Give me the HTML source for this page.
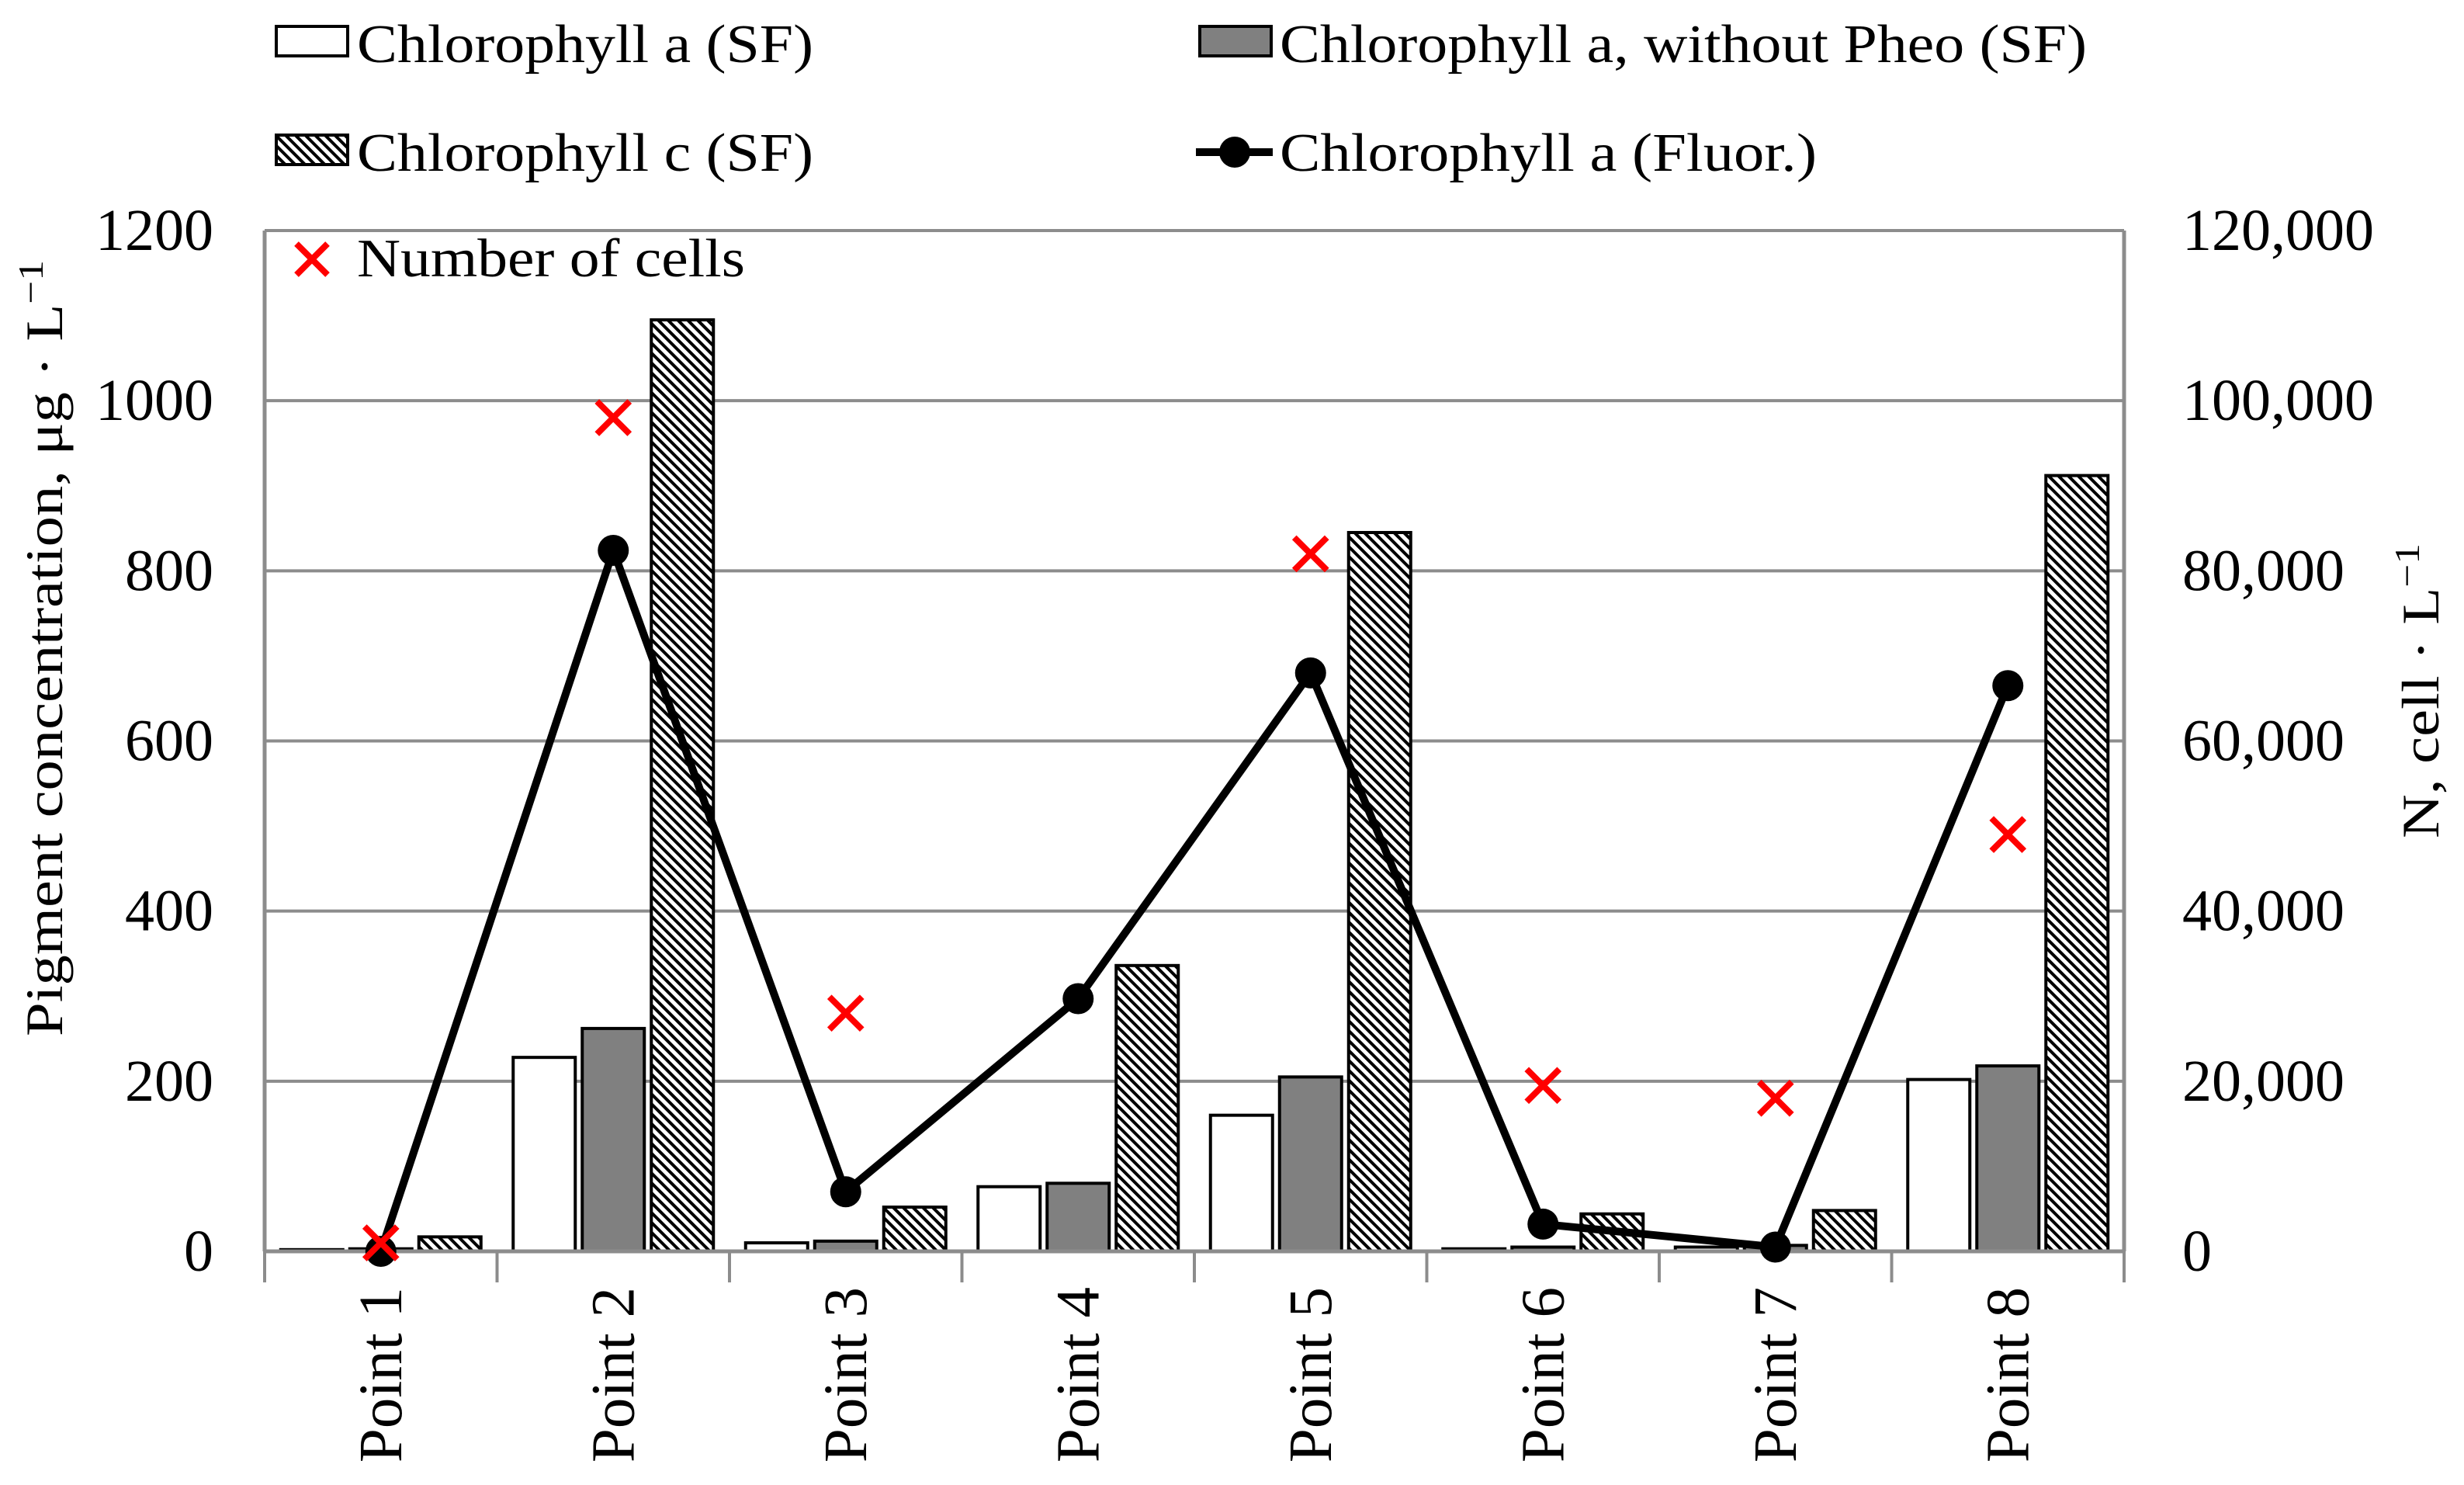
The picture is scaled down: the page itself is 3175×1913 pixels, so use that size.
<!DOCTYPE html>
<html><head><meta charset="utf-8"><style>html,body{margin:0;padding:0;background:#fff}svg{display:block}text{font-family:"Liberation Serif",serif;fill:#000}</style></head>
<body>
<svg id="chart" xmlns="http://www.w3.org/2000/svg" width="3175" height="1913" viewBox="0 0 3175 1913">
<defs>
<pattern id="hatch" patternUnits="userSpaceOnUse" width="9" height="9" patternTransform="rotate(-45)">
<rect width="9" height="9" fill="#fff"/><rect x="0" y="0" width="4" height="9" fill="#000"/>
</pattern>
</defs>
<g id="grid"></g>
<g id="bars"></g>
<g id="axes"></g>
<g id="line"></g>
<g id="cells"></g>
<g id="labels"></g>

<text transform="translate(80,835) rotate(-90)" text-anchor="middle" font-size="68" textLength="1000" lengthAdjust="spacingAndGlyphs">Pigment concentration, μg · L<tspan baseline-shift="super" font-size="46">−1</tspan></text>
<text transform="translate(3142,890) rotate(-90)" text-anchor="middle" font-size="68" textLength="380" lengthAdjust="spacingAndGlyphs">N, cell · L<tspan baseline-shift="super" font-size="46">−1</tspan></text>

<g>
<rect x="356" y="34" width="92" height="38" fill="#fff" stroke="#000" stroke-width="4"/>
<text x="460" y="80" font-size="70" textLength="588" lengthAdjust="spacingAndGlyphs">Chlorophyll a (SF)</text>
<rect x="1546" y="34" width="92" height="38" fill="#808080" stroke="#000" stroke-width="4"/>
<text x="1649" y="80" font-size="70" textLength="1040" lengthAdjust="spacingAndGlyphs">Chlorophyll a, without Pheo (SF)</text>
<rect x="356" y="174" width="92" height="38" fill="url(#hatch)" stroke="#000" stroke-width="4"/>
<text x="460" y="220" font-size="70" textLength="588" lengthAdjust="spacingAndGlyphs">Chlorophyll c (SF)</text>
<line x1="1541" y1="196" x2="1640" y2="196" stroke="#000" stroke-width="10"/>
<circle cx="1591" cy="196" r="20" fill="#000"/>
<text x="1649" y="220" font-size="70" textLength="692" lengthAdjust="spacingAndGlyphs">Chlorophyll a (Fluor.)</text>
<path d="M382,314 L422,354 M422,314 L382,354" stroke="#ff0000" stroke-width="8"/>
<text x="460" y="356" font-size="70" textLength="500" lengthAdjust="spacingAndGlyphs">Number of cells</text>
</g>

<script>
const categories = ["Point 1","Point 2","Point 3","Point 4","Point 5","Point 6","Point 7","Point 8"];
const chlA = [2, 228, 10, 76, 160, 3, 5, 202];
const chlANoPheo = [3, 262, 12, 80, 205, 5, 7, 218];
const chlC = [17, 1095, 52, 336, 845, 44, 48, 912];
const chlAFluor = [0, 824, 70, 297, 680, 32, 5, 665];
const cellCounts = [1000, 98000, 28000, null, 82000, 19500, 18000, 49000];
const yTicks = [0, 200, 400, 600, 800, 1000, 1200];
const y2Ticks = [0, 20000, 40000, 60000, 80000, 100000, 120000];

const NS = "http://www.w3.org/2000/svg";
const L = 341, R = 2737, T = 297, B = 1612;
const yMax = 1200, y2Max = 120000;
const cw = (R - L) / categories.length;
const y = v => B - v / yMax * (B - T);
const y2 = v => B - v / y2Max * (B - T);
const xc = i => L + cw * (i + 0.5);
function mk(tag, attrs, parent) {
  const e = document.createElementNS(NS, tag);
  for (const k in attrs) e.setAttribute(k, attrs[k]);
  parent.appendChild(e);
  return e;
}
const grid = document.getElementById('grid');
yTicks.forEach((t) => {
  if (t === 0) return;
  const g = mk('line', {x1: L, x2: R, y1: y(t), y2: y(t), stroke: '#8c8c8c', 'stroke-width': 4}, grid);
  
  
});
const bars = document.getElementById('bars');
const series = [[chlA, '#fff'], [chlANoPheo, '#808080'], [chlC, 'url(#hatch)']];
const bw = 80, gap = 9;
const off0 = (cw - (3 * bw + 2 * gap)) / 2;
categories.forEach((c, i) => {
  series.forEach((s, j) => {
    const v = s[0][i];
    const x = L + cw * i + off0 + j * (bw + gap);
    const r = mk('rect', {x: x, y: y(v), width: bw, height: B - y(v), fill: s[1], stroke: '#000', 'stroke-width': 4}, bars);
    
    
  });
});
const axes = document.getElementById('axes');
[[L, T, L, B], [R, T, R, B], [L, B, R, B]].forEach(a => {
  const l = mk('line', {x1: a[0], y1: a[1], x2: a[2], y2: a[3], stroke: '#8c8c8c', 'stroke-width': 5}, axes);
  
  
});
for (let i = 0; i <= categories.length; i++) {
  const l = mk('line', {x1: L + cw * i, x2: L + cw * i, y1: B, y2: B + 40, stroke: '#8c8c8c', 'stroke-width': 4}, axes);
  
  
}
const line = document.getElementById('line');
const pts = chlAFluor.map((v, i) => xc(i) + ',' + y(v)).join(' ');
const pl = mk('polyline', {points: pts, fill: 'none', stroke: '#000', 'stroke-width': 10, 'stroke-linejoin': 'round'}, line);


chlAFluor.forEach((v, i) => {
  const c = mk('circle', {cx: xc(i), cy: y(v), r: 20, fill: '#000'}, line);
  
  
});
const cells = document.getElementById('cells');
cellCounts.forEach((v, i) => {
  if (v === null) return;
  const cx = xc(i), cy = y2(v), s = 21;
  const p = mk('path', {d: `M${cx - s},${cy - s} L${cx + s},${cy + s} M${cx + s},${cy - s} L${cx - s},${cy + s}`, stroke: '#ff0000', 'stroke-width': 8}, cells);
  
  
});
const labels = document.getElementById('labels');
yTicks.forEach(t => {
  const e = mk('text', {x: 275, y: y(t) + 25, 'text-anchor': 'end', 'font-size': 76}, labels);
  e.textContent = t;
  
  
});
y2Ticks.forEach(t => {
  const e = mk('text', {x: 2812, y: y2(t) + 25, 'text-anchor': 'start', 'font-size': 76}, labels);
  e.textContent = t.toLocaleString('en-US');
  
  
});
categories.forEach((c, i) => {
  const e = mk('text', {transform: `translate(${xc(i) + 26},1658) rotate(-90)`, 'text-anchor': 'end', 'font-size': 79}, labels);
  e.textContent = c;
  
  
});
</script>
</svg>
</body></html>
